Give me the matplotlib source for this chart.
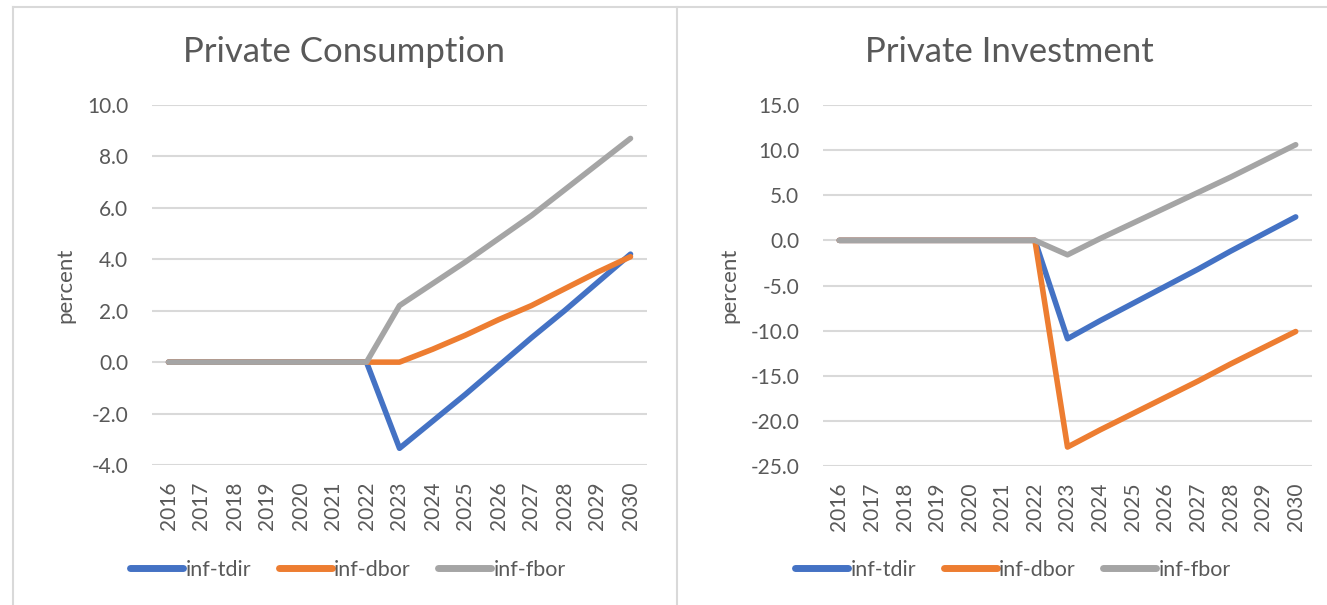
import matplotlib.pyplot as plt
from matplotlib.lines import Line2D

plt.rcParams['font.family'] = ['Lato', 'DejaVu Sans']

years = [str(y) for y in range(2016, 2031)]

cons_tdir = [0, 0, 0, 0, 0, 0, 0, -3.35, -2.3, -1.25, -0.15, 0.95, 2.0, 3.1, 4.2]
cons_dbor = [0, 0, 0, 0, 0, 0, 0, 0.0, 0.5, 1.05, 1.65, 2.2, 2.85, 3.5, 4.1]
cons_fbor = [0, 0, 0, 0, 0, 0, 0, 2.2, 3.05, 3.9, 4.8, 5.7, 6.7, 7.7, 8.7]

inv_tdir = [0, 0, 0, 0, 0, 0, 0, -10.9, -8.9, -7.0, -5.1, -3.2, -1.2, 0.7, 2.6]
inv_dbor = [0, 0, 0, 0, 0, 0, 0, -22.9, -21.0, -19.2, -17.4, -15.6, -13.7, -11.9, -10.1]
inv_fbor = [0, 0, 0, 0, 0, 0, 0, -1.6, 0.2, 1.9, 3.6, 5.3, 7.0, 8.8, 10.6]

series_names = ['inf-tdir', 'inf-dbor', 'inf-fbor']
colors = ['#4472C4', '#ED7D31', '#A5A5A5']

W, H = 1327, 605
fig = plt.figure(figsize=(W / 100, H / 100), dpi=100)
TXT = '#595959'


def px_rect(x0, x1, ytop, ybot):
    return [x0 / W, 1 - ybot / H, (x1 - x0) / W, (ybot - ytop) / H]


def draw_panel(rect, title, title_x, data, ylim, yticks, legend_center_x, label_x):
    ax = fig.add_axes(rect)
    xs = list(range(len(years)))
    for vals, name, c in zip(data, series_names, colors):
        ax.plot(xs, vals, color=c, lw=4.0, label=name,
                solid_joinstyle='round', solid_capstyle='round', zorder=3)
    ax.set_xlim(-0.5, len(years) - 0.5)
    ax.set_ylim(*ylim)
    ax.set_yticks(yticks)
    ax.set_yticklabels([f'{v:.1f}' for v in yticks])
    ax.set_xticks(xs)
    ax.set_xticklabels(years, rotation=90)
    ax.tick_params(axis='y', length=0, pad=17, labelsize=15, labelcolor=TXT)
    ax.tick_params(axis='x', length=0, pad=12, labelsize=15, labelcolor=TXT)
    for s in ax.spines.values():
        s.set_visible(False)
    ax.grid(axis='y', color='#D9D9D9', lw=1.5, zorder=0)
    ax.set_axisbelow(True)
    ax.set_ylabel('percent', fontsize=16, color=TXT)
    ax.yaxis.label.set_va('center')
    ax.yaxis.set_label_coords(label_x, 0.5)
    fig.text(title_x / W, 1 - 62.5 / H, title, fontsize=25, color=TXT,
             ha='center', va='baseline')
    leg = ax.legend(loc='center', bbox_to_anchor=(legend_center_x / W, 1 - 570 / H),
                    bbox_transform=fig.transFigure, ncol=3, frameon=False,
                    fontsize=15.5, handlelength=2.45, handletextpad=0.1,
                    columnspacing=1.3, labelcolor=TXT)
    for h in leg.get_lines():
        h.set_linewidth(5)
        h.set_solid_capstyle('round')
    return ax


draw_panel(px_rect(152, 647, 105, 465), 'Private Consumption', 344,
           [cons_tdir, cons_dbor, cons_fbor], (-4, 10),
           [-4, -2, 0, 2, 4, 6, 8, 10], 348, -0.175)
draw_panel(px_rect(823, 1312, 105, 466), 'Private Investment', 1009,
           [inv_tdir, inv_dbor, inv_fbor], (-25, 15),
           [-25, -20, -15, -10, -5, 0, 5, 10, 15], 1013, -0.192)

# chart-area borders
border = dict(color='#D9D9D9', lw=1.5, transform=fig.transFigure)
fig.add_artist(Line2D([13 / W, 1], [1 - 7 / H, 1 - 7 / H], **border))
fig.add_artist(Line2D([13 / W, 13 / W], [0, 1 - 7 / H], **border))
fig.add_artist(Line2D([677 / W, 677 / W], [0, 1 - 7 / H], **border))

fig.savefig('out.png', dpi=100, facecolor='white')
